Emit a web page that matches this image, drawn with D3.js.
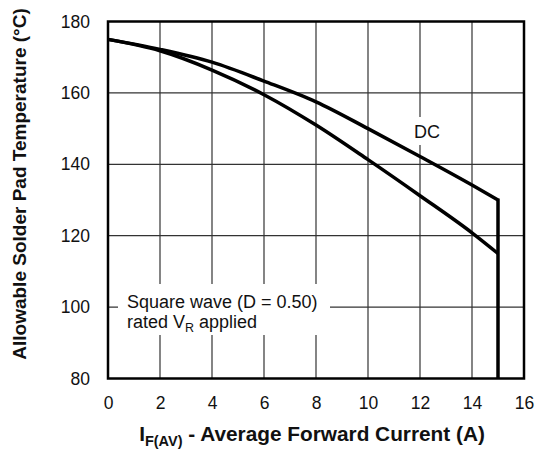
<!DOCTYPE html>
<html>
<head>
<meta charset="utf-8">
<script src="https://cdn.jsdelivr.net/npm/d3@7"></script>
<style>
  body { margin: 0; background: #fff; }
  text { font-family: "Liberation Sans", Arial, Helvetica, sans-serif; fill: #111; }
</style>
</head>
<body>
<svg id="chart"></svg>
<script>
// values
var current = [0, 2, 4, 6, 8, 10, 12, 14, 15];
var tempDC = [175, 172.2, 168.6, 163.3, 157.5, 150, 142.2, 134.2, 130];
var tempSquare = [175, 171.8, 166.4, 159.5, 151, 141.3, 131.2, 120.8, 115];
var xTicks = [0, 2, 4, 6, 8, 10, 12, 14, 16];
var yTicks = [80, 100, 120, 140, 160, 180];
var dropCurrent = 15;

var W = 535, H = 453;
var svg = d3.select("#chart").attr("width", W).attr("height", H);

var x = d3.scaleLinear().domain([0, 16]).range([108, 524]);
var y = d3.scaleLinear().domain([80, 180]).range([378.5, 21.5]);

// grid
svg.append("g").selectAll("line").data(xTicks.slice(1, -1)).enter().append("line")
  .attr("x1", function(d){ return x(d); }).attr("x2", function(d){ return x(d); })
  .attr("y1", y(180)).attr("y2", y(80))
  .style("stroke", "#333").style("stroke-width", 1.2);
svg.append("g").selectAll("line").data(yTicks.slice(1, -1)).enter().append("line")
  .attr("y1", function(d){ return y(d); }).attr("y2", function(d){ return y(d); })
  .attr("x1", x(0)).attr("x2", x(16))
  .style("stroke", "#333").style("stroke-width", 1.2);

// white boxes behind labels
svg.append("rect").attr("x", 118).attr("y", 284).attr("width", 212).attr("height", 51).style("fill", "#fff");
svg.append("rect").attr("x", 411).attr("y", 117).attr("width", 32).attr("height", 28).style("fill", "#fff");

// curves
var line = d3.line()
  .x(function(d){ return x(d[0]); })
  .y(function(d){ return y(d[1]); })
  .curve(d3.curveMonotoneX);

var dcPts = current.map(function(c, i){ return [c, tempDC[i]]; });
var sqPts = current.map(function(c, i){ return [c, tempSquare[i]]; });

svg.append("path").attr("d", line(sqPts))
  .style("fill", "none").style("stroke", "#000").style("stroke-width", 3.5);
svg.append("path").attr("d", line(dcPts))
  .style("fill", "none").style("stroke", "#000").style("stroke-width", 3.5);
svg.append("line")
  .attr("x1", x(dropCurrent)).attr("x2", x(dropCurrent))
  .attr("y1", y(tempDC[tempDC.length - 1]) - 1.5).attr("y2", y(80))
  .style("stroke", "#000").style("stroke-width", 3.5);

// frame
svg.append("rect").attr("x", x(0)).attr("y", y(180))
  .attr("width", x(16) - x(0)).attr("height", y(80) - y(180))
  .style("fill", "none").style("stroke", "#000").style("stroke-width", 2.5);

// axes
var xAxis = svg.append("g").attr("transform", "translate(0," + y(80) + ")")
  .call(d3.axisBottom(x).tickValues(xTicks).tickSize(0).tickPadding(18));
var yAxis = svg.append("g").attr("transform", "translate(" + x(0) + ",0)")
  .call(d3.axisLeft(y).tickValues(yTicks).tickSize(0).tickPadding(18));
[xAxis, yAxis].forEach(function(a){
  a.select(".domain").remove();
  a.selectAll("text").style("font-size", "17.5px").style("font-family", null).attr("fill", "#111");
});

// labels
svg.append("text").attr("x", 427).attr("y", 138).attr("text-anchor", "middle")
  .style("font-size", "18px").text("DC");

var sq = svg.append("text").attr("x", 127).attr("y", 308).style("font-size", "18px");
sq.text("Square wave (D = 0.50)");
var r = svg.append("text").attr("x", 127).attr("y", 328).style("font-size", "18px");
r.append("tspan").text("rated V");
r.append("tspan").attr("dy", 4).style("font-size", "12.5px").text("R");
r.append("tspan").attr("dy", -4).text(" applied");

var xt = svg.append("text").attr("x", 312).attr("y", 441).attr("text-anchor", "middle")
  .style("font-size", "20.8px").style("font-weight", "bold");
xt.append("tspan").text("I");
xt.append("tspan").attr("dy", 5).style("font-size", "14.5px").text("F(AV)");
xt.append("tspan").attr("dy", -5).text(" - Average Forward Current (A)");

svg.append("text").attr("transform", "translate(26,184) rotate(-90)")
  .attr("text-anchor", "middle")
  .style("font-size", "19px").style("font-weight", "bold")
  .text("Allowable Solder Pad Temperature (°C)");
</script>
</body>
</html>
